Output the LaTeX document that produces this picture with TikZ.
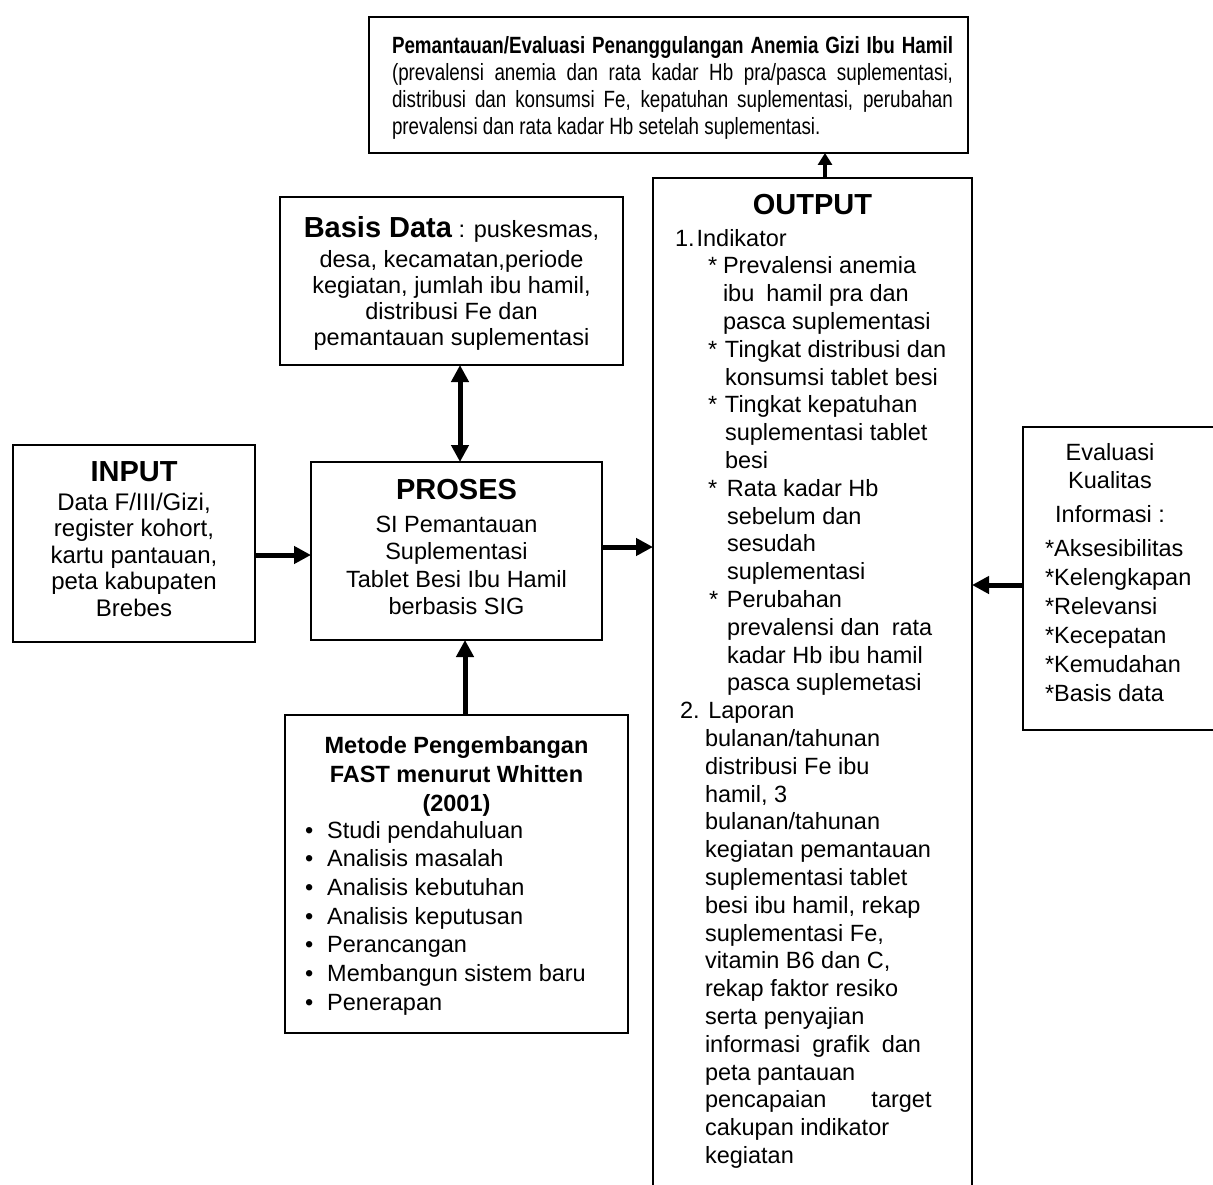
\documentclass[tikz,border=0pt]{standalone}
\usepackage{fontspec}
\setmainfont{Liberation Sans}
\newfontfamily\narrowfont[FakeStretch=0.80]{Liberation Sans}
\usetikzlibrary{arrows.meta}

\begin{document}
\begin{tikzpicture}[x=1pt,y=-1pt,
  box/.style={draw, line width=2pt, rectangle, inner sep=0pt, outer sep=0pt},
  txt/.style={inner sep=0pt, outer sep=0pt, font=\fontsize{23.5}{27.6}\selectfont},
  ttl/.style={inner sep=0pt, outer sep=0pt, font=\fontsize{29}{32}\selectfont\bfseries},
  flow/.style={line width=5pt, -{Triangle[length=17pt,width=17pt]}},
  bothflow/.style={line width=5pt, {Triangle[length=17pt,width=17pt]}-{Triangle[length=17pt,width=17pt]}},
  upflow/.style={line width=4pt, -{Triangle[length=12pt,width=14pt]}}
]
\useasboundingbox (0,0) rectangle (1213,1185);
\fill[white] (0,0) rectangle (1213,1185);

% boxes
\node[box, minimum width=599pt, minimum height=136pt] (top) at (668.5,85) {};
\node[box, minimum width=343pt, minimum height=168pt] (basis) at (451.5,281) {};
\node[box, minimum width=242pt, minimum height=197pt] (input) at (134,543.5) {};
\node[box, minimum width=291pt, minimum height=178pt] (proses) at (456.5,551) {};
\node[box, minimum width=343pt, minimum height=318pt] (metode) at (456.5,874) {};
\node[box, minimum width=319pt, minimum height=1022pt] (output) at (812.5,689) {};
\node[box, minimum width=212pt, minimum height=303pt] (evalkual) at (1129,578.5) {};

% monitoring / evaluation box
\node[txt, anchor=north west, text width=561pt, align=justify,
      font=\narrowfont\fontsize{23.5}{27.3}\selectfont] (toptext) at (392,36)
  {\noindent\textbf{Pemantauan/Evaluasi Penanggulangan Anemia Gizi Ibu Hamil}\linebreak
   (prevalensi anemia dan rata kadar Hb pra/pasca suplementasi,\linebreak
   distribusi dan konsumsi Fe, kepatuhan suplementasi, perubahan\linebreak
   prevalensi dan rata kadar Hb setelah suplementasi.};

% database box
\node[txt, anchor=north, align=center, font=\fontsize{23.5}{26}\selectfont] (basistext) at (451.5,216.5)
  {{\fontsize{29}{26}\selectfont\bfseries Basis Data} : puskesmas,\\[4pt]
   desa, kecamatan,periode\\
   kegiatan, jumlah ibu hamil,\\
   distribusi Fe dan\\
   pemantauan suplementasi};

% input box
\node[ttl, anchor=north] (inputtitle) at (134,461.5) {INPUT};
\node[txt, anchor=north, align=center, font=\fontsize{24}{26.5}\selectfont] (inputtext) at (134,493)
  {Data F/III/Gizi,\\register kohort,\\kartu pantauan,\\peta kabupaten\\Brebes};

% process box
\node[ttl, anchor=north] (prosestitle) at (456.5,479.5) {PROSES};
\node[txt, anchor=north, align=center, font=\fontsize{23.5}{27.3}\selectfont] (prosestext) at (456.5,516)
  {SI Pemantauan\\Suplementasi\\Tablet Besi Ibu Hamil\\berbasis SIG};

% development method box
\node[txt, anchor=north, align=center, font=\fontsize{23.5}{29}\selectfont\bfseries] (metodetitle) at (456.5,736.5)
  {Metode Pengembangan\\FAST menurut Whitten\\(2001)};
\node[txt, anchor=north west, align=left, font=\fontsize{23.5}{28.7}\selectfont] (metodetext) at (305,821)
  {\textbullet\hspace{14pt}Studi pendahuluan\\
   \textbullet\hspace{14pt}Analisis masalah\\
   \textbullet\hspace{14pt}Analisis kebutuhan\\
   \textbullet\hspace{14pt}Analisis keputusan\\
   \textbullet\hspace{14pt}Perancangan\\
   \textbullet\hspace{14pt}Membangun sistem baru\\
   \textbullet\hspace{14pt}Penerapan};

% output box
\node[ttl, anchor=north] (outputtitle) at (812.5,194.5) {OUTPUT};
\node[txt, anchor=north west, align=left, font=\fontsize{23.5}{27.8}\selectfont] (outputtext) at (675,229)
  {1.\hspace{2pt}Indikator\\
   \makebox[48pt][l]{\hspace*{33pt}*}Prevalensi anemia\\
   \hspace*{48pt}ibu\hspace{12pt}hamil pra dan\\
   \hspace*{48pt}pasca suplementasi\\
   \makebox[50pt][l]{\hspace*{33pt}*}Tingkat distribusi dan\\
   \hspace*{50pt}konsumsi tablet besi\\
   \makebox[50pt][l]{\hspace*{33pt}*}Tingkat kepatuhan\\
   \hspace*{50pt}suplementasi tablet\\
   \hspace*{50pt}besi\\
   \makebox[52pt][l]{\hspace*{33pt}*}Rata kadar Hb\\
   \hspace*{52pt}sebelum dan\\
   \hspace*{52pt}sesudah\\
   \hspace*{52pt}suplementasi\\
   \makebox[52pt][l]{\hspace*{34pt}*}Perubahan\\
   \hspace*{52pt}prevalensi dan\hspace{12pt}rata\\
   \hspace*{52pt}kadar Hb ibu hamil\\
   \hspace*{52pt}pasca suplemetasi\\
   \hspace*{5pt}2. Laporan\\
   \hspace*{30pt}bulanan/tahunan\\
   \hspace*{30pt}distribusi Fe ibu\\
   \hspace*{30pt}hamil, 3\\
   \hspace*{30pt}bulanan/tahunan\\
   \hspace*{30pt}kegiatan pemantauan\\
   \hspace*{30pt}suplementasi tablet\\
   \hspace*{30pt}besi ibu hamil, rekap\\
   \hspace*{30pt}suplementasi Fe,\\
   \hspace*{30pt}vitamin B6 dan C,\\
   \hspace*{30pt}rekap faktor resiko\\
   \hspace*{30pt}serta penyajian\\
   \hspace*{30pt}informasi\hspace{12pt}grafik\hspace{12pt}dan\\
   \hspace*{30pt}peta pantauan\\
   \hspace*{30pt}pencapaian\hspace{45pt}target\\
   \hspace*{30pt}cakupan indikator\\
   \hspace*{30pt}kegiatan};

% information quality box
\node[txt, anchor=north, align=center, font=\fontsize{23.5}{28}\selectfont] (evaltitle) at (1110,443)
  {Evaluasi\\Kualitas\\[6pt]Informasi :};
\node[txt, anchor=north west, align=left, font=\fontsize{23.5}{29}\selectfont] (evaltext) at (1045,539)
  {*Aksesibilitas\\*Kelengkapan\\*Relevansi\\*Kecepatan\\*Kemudahan\\*Basis data};

% connectors
\draw[flow] ([yshift=-11.5pt]input.east) -- ([yshift=-11.5pt]input.east -| proses.west);
\draw[flow] ([yshift=4pt]proses.east) -- ([yshift=4pt]proses.east -| output.west);
\draw[bothflow] ([xshift=8.5pt]basis.south) -- ([xshift=8.5pt]basis.south |- proses.north);
\draw[flow] ([xshift=8.5pt]metode.north) -- ([xshift=8.5pt]metode.north |- proses.south);
\draw[upflow] ([xshift=12.5pt]output.north) -- ([xshift=12.5pt]output.north |- top.south);
\draw[flow] ([yshift=-6.5pt]evalkual.west) -- ([yshift=-6.5pt]evalkual.west -| output.east);
\end{tikzpicture}
\end{document}
